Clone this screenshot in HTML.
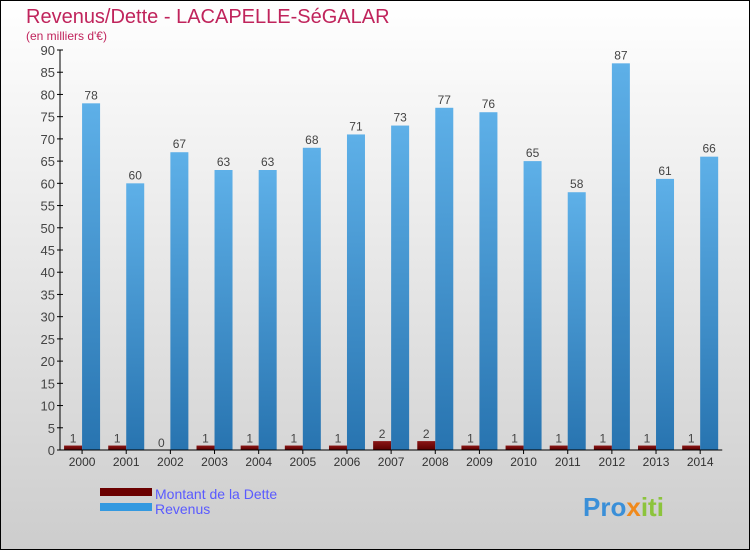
<!DOCTYPE html>
<html><head><meta charset="utf-8"><style>
body{margin:0}
svg{display:block;font-family:"Liberation Sans",sans-serif}
</style></head><body>
<svg id="c" width="750" height="550" xmlns="http://www.w3.org/2000/svg">
<defs>
<linearGradient id="bg" x1="0" y1="0" x2="0" y2="1"><stop offset="0" stop-color="#ffffff"/><stop offset="1" stop-color="#cdcdcd"/></linearGradient>
<linearGradient id="rev" x1="0" y1="0" x2="0" y2="1"><stop offset="0" stop-color="#5eb0e8"/><stop offset="1" stop-color="#2874b0"/></linearGradient>
<linearGradient id="det" x1="0" y1="0" x2="0" y2="1"><stop offset="0" stop-color="#8a1515"/><stop offset="1" stop-color="#5a0000"/></linearGradient>
</defs>
<rect x="0.5" y="0.5" width="749" height="549" fill="url(#bg)" stroke="#000"/>
<text x="26" y="23" font-size="20" fill="#c0245c">Revenus/Dette - LACAPELLE-SéGALAR</text>
<text x="26" y="40" font-size="12" fill="#c0245c">(en milliers d'€)</text>
<g id="plot"></g>
<rect x="100" y="488" width="52" height="8" fill="#6b0000"/>
<text x="155" y="499" font-size="14" fill="#5a5aff">Montant de la Dette</text>
<rect x="100" y="503" width="52" height="8" fill="#3399e0"/>
<text x="155" y="514" font-size="14" fill="#5a5aff">Revenus</text>
<text x="583" y="516" font-size="26" font-weight="bold"><tspan fill="#3a8fd8">Pro</tspan><tspan fill="#f08a1c">x</tspan><tspan fill="#8cc43c">iti</tspan></text>
</svg>
<script>
const years=["2000","2001","2002","2003","2004","2005","2006","2007","2008","2009","2010","2011","2012","2013","2014"];
const revenus=[78,60,67,63,63,68,71,73,77,76,65,58,87,61,66];
const dette=[1,1,0,1,1,1,1,2,2,1,1,1,1,1,1];
const yTicks=[0,5,10,15,20,25,30,35,40,45,50,55,60,65,70,75,80,85,90];
const NS="http://www.w3.org/2000/svg";
const g=document.getElementById('plot');
const x0=60,step=44.15,yb=450,yt=50,ymax=90;
const y=v=>yb-(v/ymax)*(yb-yt);
function mk(t,a){const e=document.createElementNS(NS,t);for(const k in a)e.setAttribute(k,a[k]);g.appendChild(e);return e;}
yTicks.forEach(v=>{
  const l=mk('line',{x1:57,x2:63,y1:y(v),y2:y(v),stroke:'#000'});
  
  
  const t=mk('text',{x:55,y:y(v)+5,'font-size':13,fill:'#444','text-anchor':'end'});t.textContent=v;
  
  
});
years.forEach((yr,i)=>{
  const c=x0+step*(i+0.5);
  const bd=mk('rect',{x:c-18,y:y(dette[i]),width:18,height:yb-y(dette[i]),fill:'url(#det)'});
  
  
  const br=mk('rect',{x:c,y:y(revenus[i]),width:18,height:yb-y(revenus[i]),fill:'url(#rev)'});
  
  
  const ld=mk('text',{x:c-9,y:y(dette[i])-3,'font-size':12,fill:'#444','text-anchor':'middle'});ld.textContent=dette[i];
  
  
  const lr=mk('text',{x:c+9,y:y(revenus[i])-4,'font-size':12,fill:'#444','text-anchor':'middle'});lr.textContent=revenus[i];
  
  
  const tk=mk('line',{x1:c,x2:c,y1:yb,y2:yb+4,stroke:'#000'});
  
  
  const xl=mk('text',{x:c,y:466,'font-size':12,fill:'#333','text-anchor':'middle'});xl.textContent=yr;
  
  
});
const ya=mk('line',{x1:60,x2:60,y1:yt,y2:yb,stroke:'#000'});


const xa=mk('line',{x1:60,x2:x0+step*15,y1:yb,y2:yb,stroke:'#000'});


</script>
</body></html>
